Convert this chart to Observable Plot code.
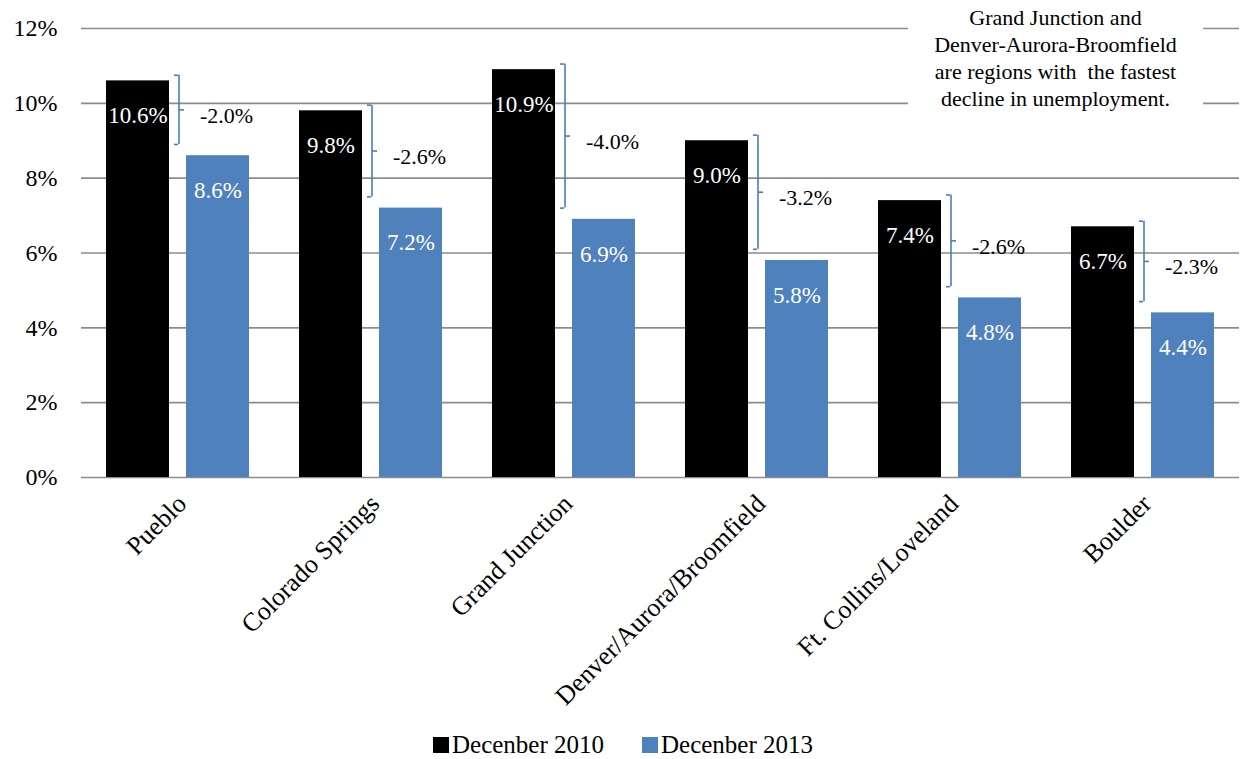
<!DOCTYPE html>
<html>
<head>
<meta charset="utf-8">
<script src="https://cdn.jsdelivr.net/npm/d3@7"></script>
<script src="https://cdn.jsdelivr.net/npm/@observablehq/plot@0.6"></script>
<style>
  html, body { margin: 0; padding: 0; background: #fff; }
  body { width: 1242px; height: 759px; position: relative; overflow: hidden; font-family: "Liberation Serif", serif; }
  #chart svg, #chart svg text { font-family: "Liberation Serif", serif !important; }
  #note { position: absolute; left: 908px; top: 0px; width: 295px; height: 113px; background: #fff; font-family: "Liberation Serif", serif;
          text-align: center; font-size: 22px; line-height: 27px; padding-top: 4px; box-sizing: border-box; color: #000; }
  #legend { position: absolute; left: 433px; top: 731px; font-size: 25px; display: flex; align-items: center; color: #000; font-family: "Liberation Serif", serif; }
  #legend .item { display: flex; align-items: center; margin-right: 38px; }
  #legend .sw { width: 16px; height: 16px; margin-right: 3px; }
</style>
</head>
<body>
<div id="chart"></div>
<div id="note">Grand Junction and<br>Denver-Aurora-Broomfield<br>are regions with&nbsp; the fastest<br>decline in unemployment.</div>
<div id="legend"></div>
<script>
const regions = ["Pueblo", "Colorado Springs", "Grand Junction", "Denver/Aurora/Broomfield", "Ft. Collins/Loveland", "Boulder"];
const dec2010 = [10.6, 9.8, 10.9, 9.0, 7.4, 6.7];
const dec2013 = [8.6, 7.2, 6.9, 5.8, 4.8, 4.4];
const seriesNames = ["Decenber 2010", "Decenber 2013"];
const seriesColors = ["#000000", "#4f81bd"];
const yTicks = [0, 2, 4, 6, 8, 10, 12];

const data = regions.flatMap((r, i) => [
  {region: r, series: seriesNames[0], value: dec2010[i]},
  {region: r, series: seriesNames[1], value: dec2013[i]}
]);
const brackets = regions.map((r, i) => {
  const top = dec2010[i] + 0.15, bot = dec2013[i] + 0.3;
  return {region: r, top, bot, mid: (top + bot) / 2, change: "-" + (dec2010[i] - dec2013[i]).toFixed(1) + "%"};
});
const first = () => seriesNames[0];
const braceColor = "#4a7ebb";
const serif = "Liberation Serif, serif";

const chart = Plot.plot({
  width: 1242,
  height: 725,
  marginTop: 28,
  marginBottom: 248,
  marginLeft: 79,
  marginRight: 2,
  style: {fontFamily: serif, fontSize: "24px", color: "#000", background: "#fff"},
  fx: {domain: regions, padding: 0, label: null, axis: null},
  x: {domain: seriesNames, paddingInner: 0.21, paddingOuter: 0.3, align: 0.5, axis: null},
  y: {domain: [0, 12], ticks: yTicks, tickFormat: d => d + "%", label: null, tickSize: 0, tickPadding: 24},
  color: {domain: seriesNames, range: seriesColors},
  marks: [
    Plot.ruleY(yTicks, {stroke: "#8c8c8c", strokeWidth: 1.6}),
    Plot.axisFx({anchor: "bottom", tickRotate: -45, tickSize: 0, tickPadding: 22, dx: 4, fontSize: 26, label: null}),
    Plot.barY(data, {fx: "region", x: "series", y: "value", fill: "series"}),
    Plot.text(data, {fx: "region", x: "series", y: "value", text: d => d.value.toFixed(1) + "%", fill: "white", dy: 35, fontSize: 23, fontFamily: serif}),
    Plot.ruleX(brackets, {fx: "region", x: first, y1: "top", y2: "bot", dx: 41, stroke: braceColor, strokeWidth: 1.6}),
    Plot.tickY(brackets, {fx: "region", x: first, y: "top", insetLeft: 59, dx: 9, stroke: braceColor, strokeWidth: 1.6}),
    Plot.tickY(brackets, {fx: "region", x: first, y: "bot", insetLeft: 59, dx: 9, stroke: braceColor, strokeWidth: 1.6}),
    Plot.tickY(brackets, {fx: "region", x: first, y: "mid", insetLeft: 58, dx: 15, stroke: braceColor, strokeWidth: 1.6}),
    Plot.text(brackets, {fx: "region", x: first, y: "mid", text: "change", textAnchor: "start", dx: 62, dy: 6, fill: "#000", fontSize: 22, fontFamily: serif})
  ]
});
document.getElementById("chart").appendChild(chart);

const legend = d3.select("#legend");
seriesNames.forEach((s, i) => {
  const item = legend.append("div").attr("class", "item");
  item.append("div").attr("class", "sw").style("background", seriesColors[i]);
  item.append("span").text(s);
});
</script>
</body>
</html>
